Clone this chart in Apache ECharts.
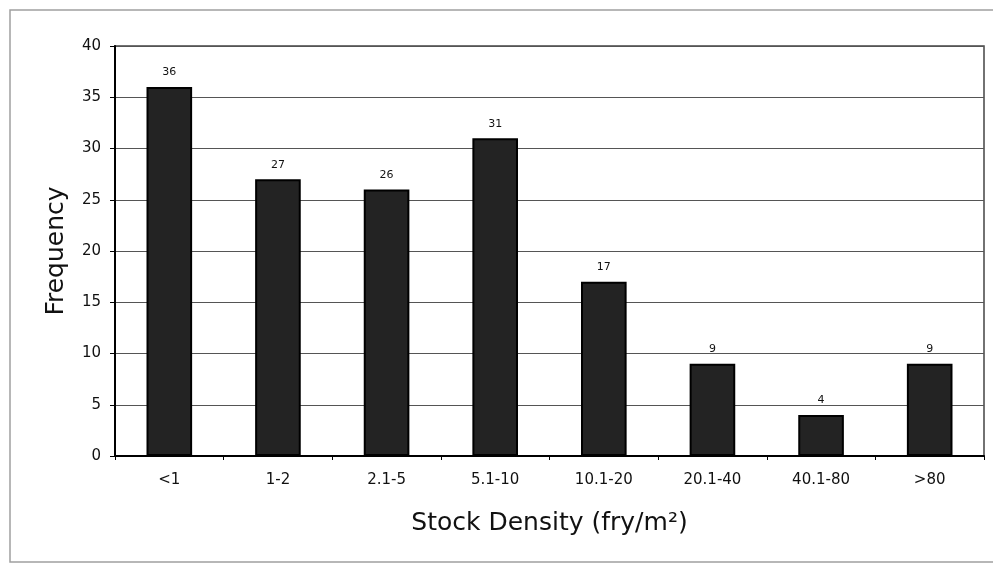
<!DOCTYPE html>
<html>
<head>
<meta charset="utf-8">
<script src="https://cdn.jsdelivr.net/npm/echarts@6/dist/echarts.min.js"></script>
<style>
  html, body { margin: 0; padding: 0; background: #ffffff; }
  #chart { width: 993px; height: 568px; }
</style>
</head>
<body>
<div id="chart"></div>
<script>
// Stock density classes and how often each was observed
const densityClasses = ['<1', '1-2', '2.1-5', '5.1-10', '10.1-20', '20.1-40', '40.1-80', '>80'];
const frequencies = [36, 27, 26, 31, 17, 9, 4, 9];
const yTicks = [0, 5, 10, 15, 20, 25, 30, 35, 40];

const FONT = '"DejaVu Sans", "Liberation Sans", sans-serif';

const chart = echarts.init(document.getElementById('chart'), null, { renderer: 'canvas' });

chart.setOption({
  backgroundColor: '#ffffff',
  animation: false,
  graphic: [{
    type: 'rect',
    shape: { x: 10, y: 10, width: 1000, height: 552 },
    style: { fill: 'none', stroke: '#a0a0a0', lineWidth: 1.5 },
    silent: true,
    z: -1
  }],
  grid: {
    left: 115,
    top: 46,
    right: 9,
    bottom: 112,
    show: true,
    borderColor: '#444',
    borderWidth: 1.5
  },
  xAxis: {
    type: 'category',
    data: densityClasses,
    name: 'Stock Density (fry/m²)',
    nameLocation: 'middle',
    nameGap: 55,
    nameTextStyle: { fontFamily: FONT, fontSize: 25, color: '#111', verticalAlign: 'top' },
    axisLine: { show: true, lineStyle: { color: '#000', width: 2 } },
    axisTick: { show: true, length: 4, lineStyle: { color: '#000' } },
    axisLabel: { fontFamily: FONT, fontSize: 15, color: '#111', margin: 17 },
    splitLine: { show: false }
  },
  yAxis: {
    type: 'value',
    min: yTicks[0],
    max: yTicks[yTicks.length - 1],
    interval: yTicks[1] - yTicks[0],
    name: 'Frequency',
    nameLocation: 'middle',
    nameGap: 46,
    nameTextStyle: { fontFamily: FONT, fontSize: 25, color: '#111' },
    axisLine: { show: true, lineStyle: { color: '#000', width: 2 } },
    axisTick: { show: true, inside: false, length: 5, lineStyle: { color: '#000' } },
    axisLabel: { fontFamily: FONT, fontSize: 15, color: '#111', margin: 14 },
    splitLine: { show: true, lineStyle: { color: '#555', width: 1.2 } }
  },
  series: [{
    type: 'bar',
    data: frequencies,
    barWidth: '42%',
    itemStyle: { color: '#232323', borderColor: '#000', borderWidth: 2 },
    label: {
      show: true,
      position: 'top',
      distance: 9,
      fontFamily: FONT,
      fontSize: 11,
      color: '#111'
    }
  }]
});
</script>
</body>
</html>
